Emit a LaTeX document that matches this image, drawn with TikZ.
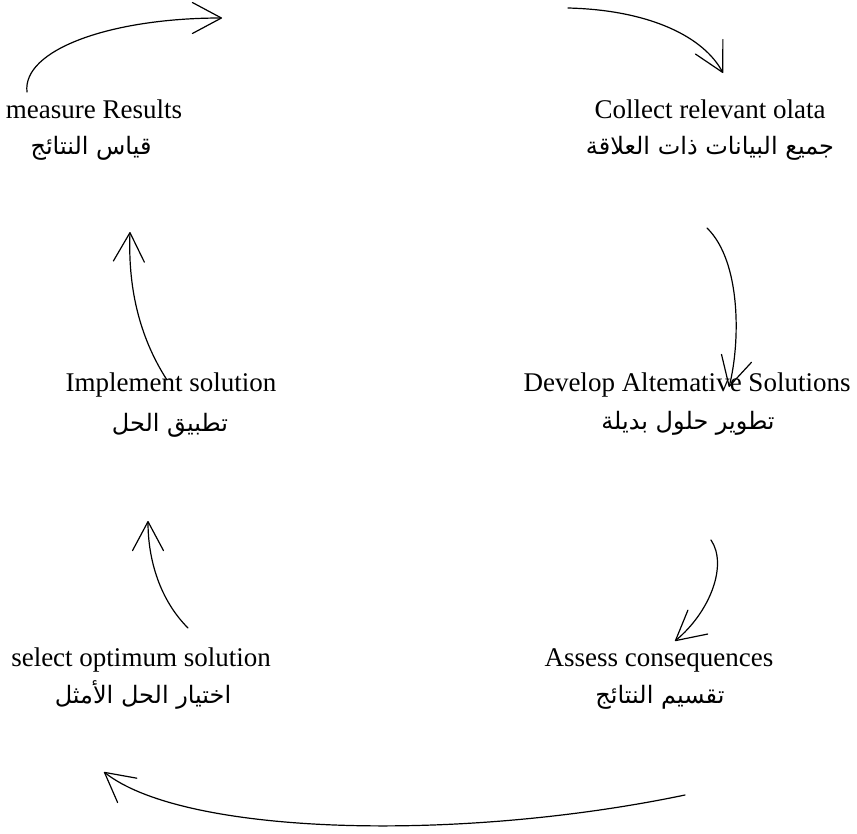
\documentclass[tikz,border=0pt]{standalone}
\usepackage{fontspec}
\setmainfont{Liberation Serif}
\newfontfamily\arabicfont[Script=Arabic]{DejaVu Sans}
\TeXXeTstate=1
\usetikzlibrary{arrows.meta}
\tikzset{
  en/.style={anchor=base, inner sep=0pt, font=\fontsize{27}{30}\selectfont},
  ar/.style={anchor=base, inner sep=0pt, font=\arabicfont\fontsize{24}{30}\selectfont},
  flow/.style={line width=1.2pt, line cap=round, line join=round,
    -{Straight Barb[length=29pt,width=31pt,line cap=round,line join=round]}}
}
\newcommand{\arb}[1]{\beginR #1\endR}
\begin{document}
\begin{tikzpicture}[x=1pt,y=-1pt]
\useasboundingbox (0,0) rectangle (857,833);

% step labels, English above Arabic
\node[en] (measure)  at (94,118)  {measure Results};
\node[ar] (measureA) at (91,154)  {\arb{قياس النتائج}};
\node[en] (collect)  at (710,118) {Collect relevant olata};
\node[ar] (collectA) at (710,154) {\arb{جميع البيانات ذات العلاقة}};
\node[en] (impl)     at (171,391) {Implement solution};
\node[ar] (implA)    at (170,431) {\arb{تطبيق الحل}};
\node[en] (develop)  at (687,391) {Develop Altemative Solutions};
\node[ar] (developA) at (688,429) {\arb{تطوير حلول بديلة}};
\node[en] (select)   at (141,666) {select optimum solution};
\node[ar] (selectA)  at (143,703) {\arb{اختيار الحل الأمثل}};
\node[en] (assess)   at (659,666) {Assess consequences};
\node[ar] (assessA)  at (660,703) {\arb{تقسيم النتائج}};

% connector end points
\coordinate (a1s) at (27,92);   \coordinate (a1e) at (222,18);
\coordinate (a2s) at (568,8);   \coordinate (a2e) at (723,73);
\coordinate (a3s) at (707,228); \coordinate (a3e) at (729,387);
\coordinate (a4s) at (711,540); \coordinate (a4e) at (675,641);
\coordinate (a5s) at (685,795); \coordinate (a5e) at (104,772);
\coordinate (a6s) at (188,628); \coordinate (a6e) at (148,521);
\coordinate (a7s) at (167,380); \coordinate (a7e) at (130,232);

% the cycle of curved arrows
\draw[flow] (a1s) .. controls (22,50) and (110,18) .. (a1e);
\draw[flow] (a2s) .. controls (650,10) and (704,37) .. (a2e);
\draw[flow] (a3s) .. controls (742,262) and (740,345) .. (a3e);
\draw[flow] (a4s) .. controls (728,565) and (710,612) .. (a4e);
\draw[flow] (a5s) .. controls (460,842) and (185,836) .. (a5e);
\draw[flow] (a6s) .. controls (160,600) and (148,560) .. (a6e);
\draw[flow] (a7s) .. controls (138,335) and (128,285) .. (a7e);
\end{tikzpicture}
\end{document}
